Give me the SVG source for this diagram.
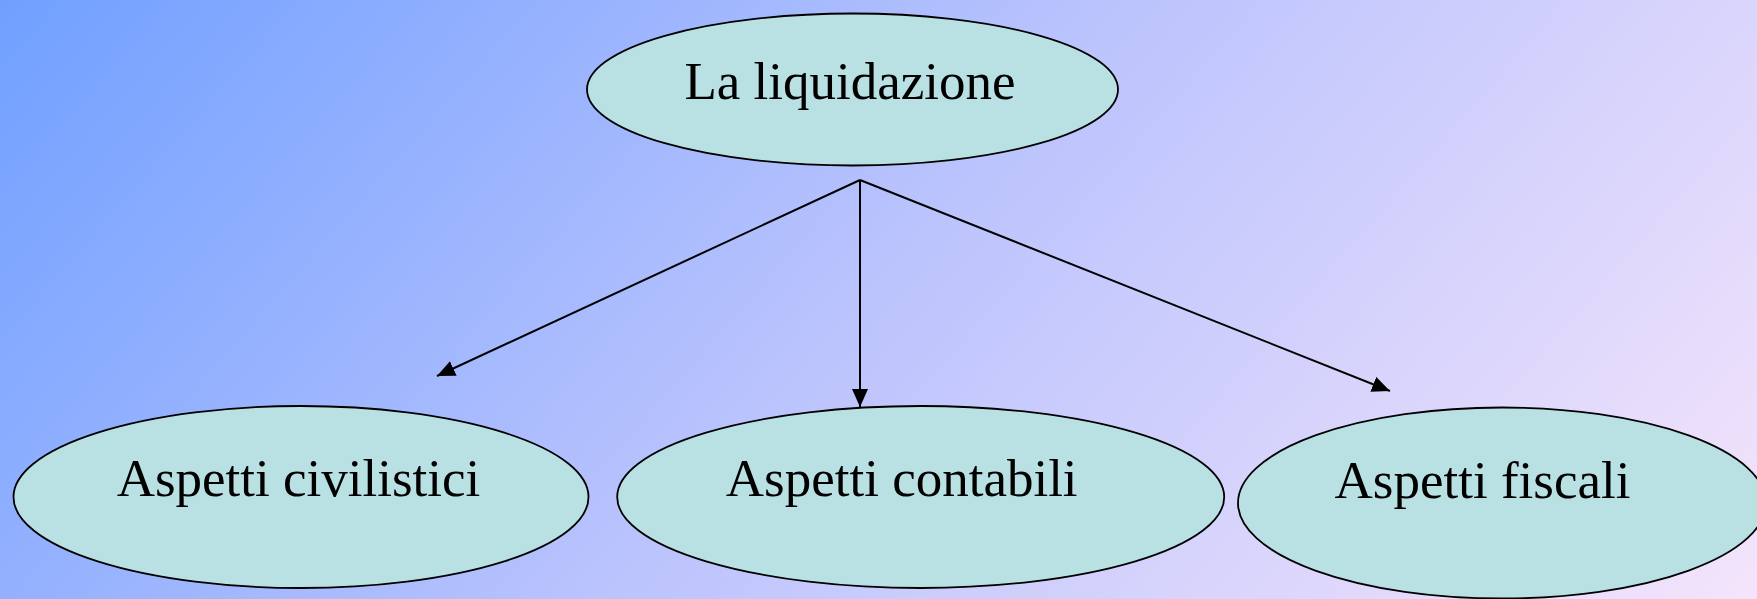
<svg xmlns="http://www.w3.org/2000/svg" width="1757" height="599" viewBox="0 0 1757 599">
  <style>
    .node { fill: #b9e0e2; stroke: #000; stroke-width: 1.8; }
    .label { font-family: "Liberation Serif", "Times New Roman", serif; font-size: 53px; fill: #000; text-anchor: middle; }
    .edge { stroke: #000; stroke-width: 2; fill: none; marker-end: url(#arrow); }
  </style>
  <defs>
    <linearGradient id="bg" gradientUnits="userSpaceOnUse" x1="0" y1="0" x2="1290" y2="1131">
      <stop offset="0" stop-color="#70a0ff"/>
      <stop offset="0.5" stop-color="#bcc4fd"/>
      <stop offset="1" stop-color="#f4e4fb"/>
    </linearGradient>
    <marker id="arrow" markerUnits="userSpaceOnUse" markerWidth="18" markerHeight="16" refX="18" refY="8" orient="auto">
      <path d="M0,0 L18,8 L0,16 z" fill="#000"/>
    </marker>
  </defs>
  <rect x="0" y="0" width="1757" height="599" fill="url(#bg)"/>

  <g id="connectors">
    <line class="edge" x1="860" y1="180" x2="437" y2="376"/>
    <line class="edge" x1="860" y1="180" x2="860" y2="407"/>
    <line class="edge" x1="860" y1="180" x2="1390" y2="391"/>
  </g>

  <g id="node-liquidazione">
    <ellipse class="node" cx="852.5" cy="89.5" rx="265.5" ry="76"/>
    <text class="label" x="850" y="99">La liquidazione</text>
  </g>
  <g id="node-civilistici">
    <ellipse class="node" cx="301" cy="497" rx="287.5" ry="91"/>
    <text class="label" x="298.5" y="496">Aspetti civilistici</text>
  </g>
  <g id="node-contabili">
    <ellipse class="node" cx="920.7" cy="497" rx="303.5" ry="91"/>
    <text class="label" x="901.7" y="496">Aspetti contabili</text>
  </g>
  <g id="node-fiscali">
    <ellipse class="node" cx="1502" cy="503" rx="264" ry="95.5"/>
    <text class="label" x="1482.5" y="498">Aspetti fiscali</text>
  </g>
</svg>
